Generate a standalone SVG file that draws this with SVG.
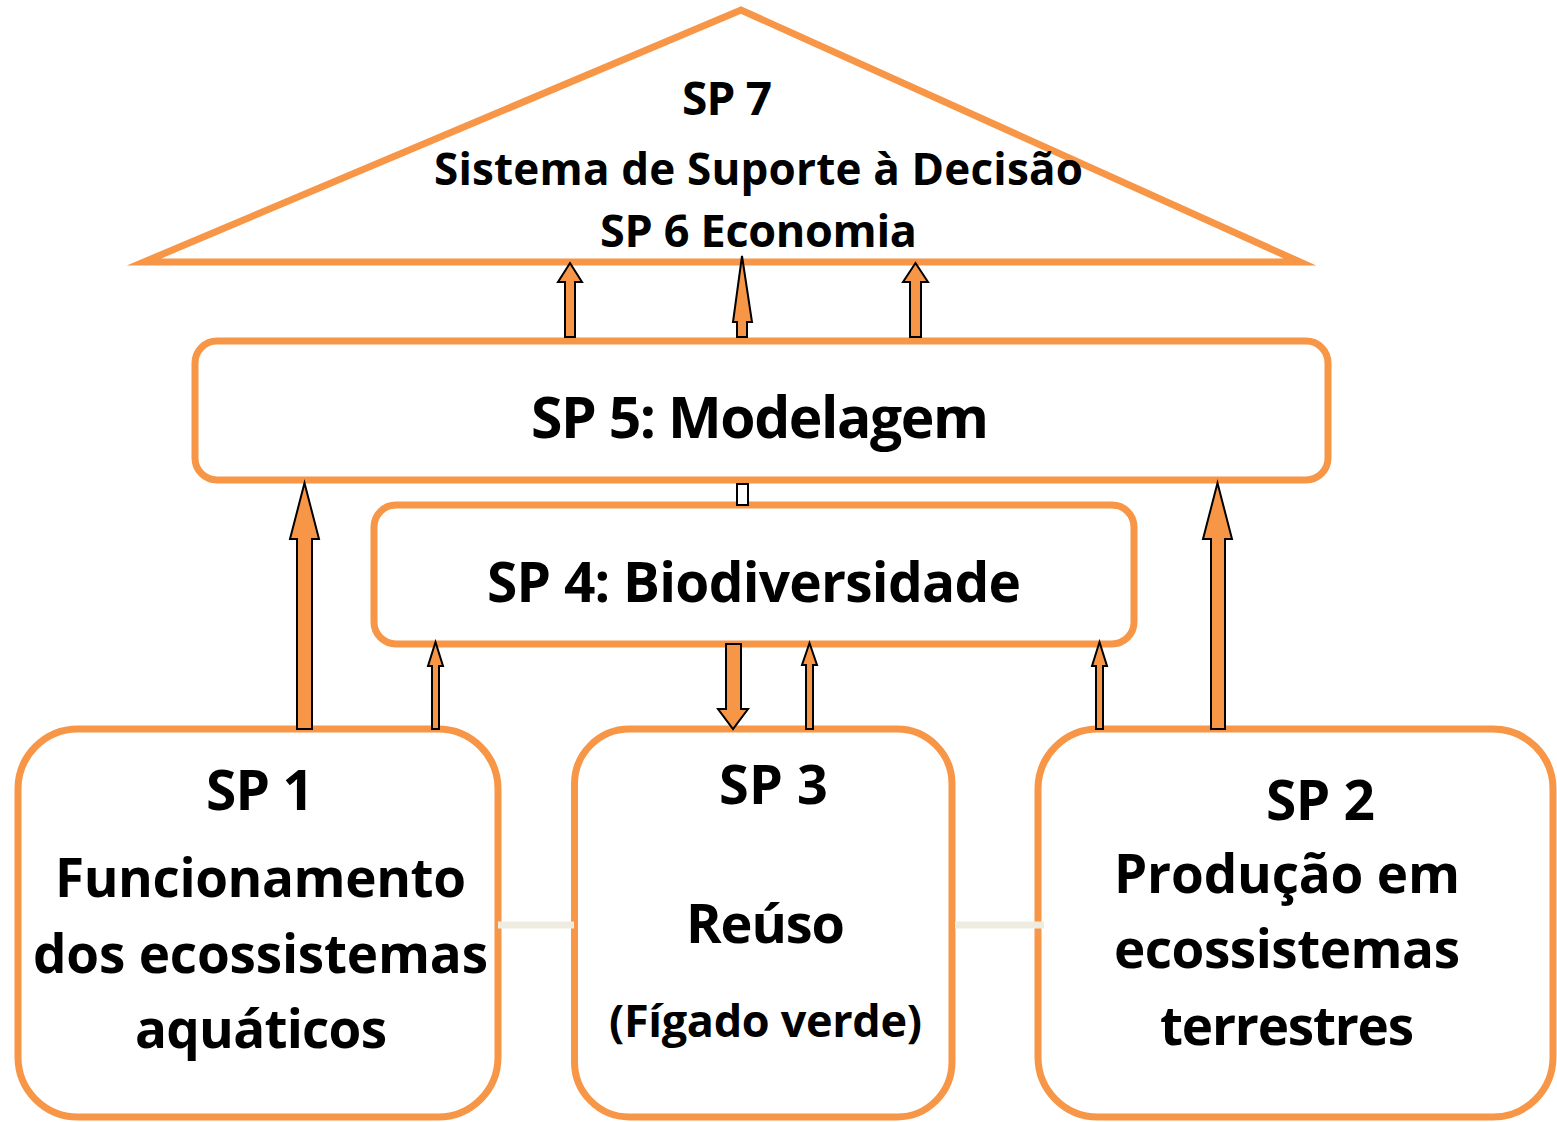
<svg xmlns="http://www.w3.org/2000/svg" width="1557" height="1122" viewBox="0 0 1557 1122">
<style>
.box{fill:#fff;stroke:#F79646;stroke-width:7}
.roof{fill:#fff;stroke:#F79646;stroke-width:7;stroke-miterlimit:10;stroke-linejoin:miter}
.arr{fill:#F79646;stroke:#000;stroke-width:2;stroke-linejoin:miter}
.link{stroke:#EEECE1;stroke-width:7;fill:none}
text{font-family:"Open Sans",Lato,"Liberation Sans",sans-serif;font-weight:700;fill:#000;text-anchor:middle}
</style>
<rect width="1557" height="1122" fill="#fff"/>
<g id="sp7">
<polygon class="roof" points="144,262 741,10 1300,262"/>
<text x="727" y="115" font-size="46" textLength="90">SP 7</text>
<text x="758.5" y="185" font-size="44" textLength="649">Sistema de Suporte à Decisão</text>
<text x="758.5" y="247" font-size="45" textLength="317">SP 6 Economia</text>
</g>
<g id="sp5">
<rect class="box" x="195" y="341" width="1133" height="139" rx="22"/>
<text x="760" y="438" font-size="57" textLength="458">SP 5: Modelagem</text>
</g>
<g id="sp4">
<rect class="box" x="374" y="505" width="760" height="139" rx="22"/>
<text x="754" y="602" font-size="55" textLength="534">SP 4: Biodiversidade</text>
</g>
<g id="sp1">
<rect class="box" x="18" y="729" width="480" height="388" rx="60"/>
<text x="260" y="810" font-size="55" textLength="108">SP 1</text>
<text x="260.5" y="897" font-size="53" textLength="411">Funcionamento</text>
<text x="260.5" y="973" font-size="53" textLength="455">dos ecossistemas</text>
<text x="261" y="1048" font-size="53" textLength="252">aquáticos</text>
</g>
<g id="sp3">
<rect class="box" x="574.5" y="729" width="377.5" height="388" rx="55"/>
<text x="773.5" y="804" font-size="54" textLength="109">SP 3</text>
<text x="765.5" y="943" font-size="54" textLength="159">Reúso</text>
<text x="765.5" y="1037" font-size="45" textLength="313">(Fígado verde)</text>
</g>
<g id="sp2">
<rect class="box" x="1038" y="729" width="515" height="388" rx="60"/>
<text x="1320.5" y="820" font-size="55" textLength="109">SP 2</text>
<text x="1287" y="893" font-size="53" textLength="346">Produção em</text>
<text x="1287" y="968" font-size="53" textLength="346">ecossistemas</text>
<text x="1287" y="1045" font-size="53" textLength="254">terrestres</text>
</g>
<g id="connectors">
<line class="link" x1="498" y1="925" x2="574" y2="925"/>
<line class="link" x1="955" y1="925" x2="1044" y2="925"/>
<polygon class="arr" points="565,337 565,282 558,282 570,263 582,282 575,282 575,337"/>
<polygon class="arr" points="737,337 737,322 733,322 742,256 752,322 747,322 747,337"/>
<polygon class="arr" points="910,337 910,282 903,282 915.5,263 928,282 921,282 921,337"/>
<rect x="737" y="484" width="11" height="21" fill="#fff" stroke="#000" stroke-width="2"/>
<polygon class="arr" points="297,729 297,539 290,539 304.5,483 319,539 312,539 312,729"/>
<polygon class="arr" points="432,729 432,666 428,666 435.5,642 443,666 439,666 439,729"/>
<polygon class="arr" points="726,644 741,644 741,709 748,709 733,729 718,709 726,709"/>
<polygon class="arr" points="806,729 806,665 802,665 809.5,643 817,665 813,665 813,729"/>
<polygon class="arr" points="1096,729 1096,666 1092,666 1099.5,642 1107,666 1103,666 1103,729"/>
<polygon class="arr" points="1211,729 1211,539 1203,539 1217.5,483 1232,539 1225,539 1225,729"/>
</g>
</svg>
